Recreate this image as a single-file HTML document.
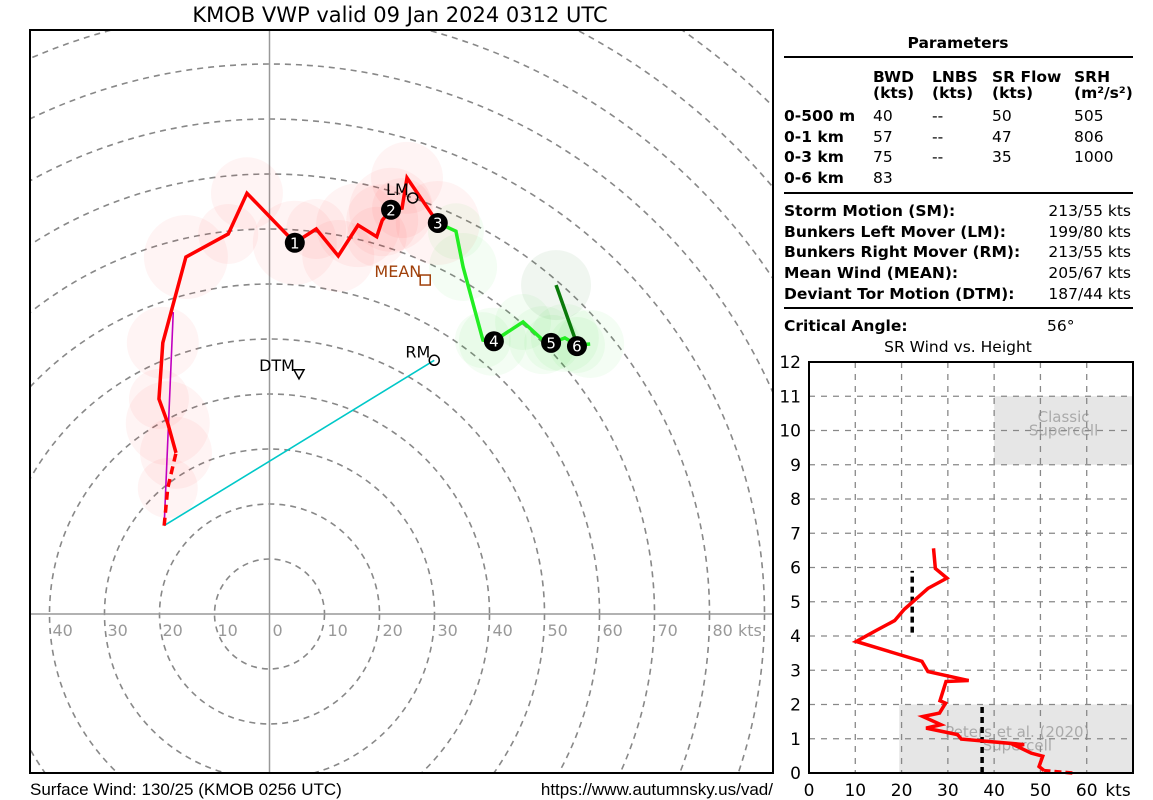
<!DOCTYPE html>
<html><head><meta charset="utf-8"><style>
html,body{margin:0;background:#fff;overflow:hidden;width:1153px;height:800px;}
svg{display:block;font-family:"DejaVu Sans","Liberation Sans",sans-serif;}
</style></head><body>
<svg id="svg" width="1153" height="800" viewBox="0 0 1153 800" xmlns="http://www.w3.org/2000/svg">
<rect width="1153" height="800" fill="#fff"/>
<text x="400" y="22" text-anchor="middle" font-size="21">KMOB VWP valid 09 Jan 2024 0312 UTC</text>
<defs><clipPath id="hclip"><rect x="30" y="30" width="743" height="743"/></clipPath></defs>
<g id="hodo" clip-path="url(#hclip)"></g>
<rect x="30" y="30" width="743" height="743" fill="none" stroke="#000" stroke-width="2"/>
<g id="hlabels"></g>
<text x="30" y="795" font-size="17" font-family="Liberation Sans, sans-serif">Surface Wind: 130/25 (KMOB 0256 UTC)</text>
<text x="773" y="795" font-size="17" text-anchor="end" font-family="Liberation Sans, sans-serif">https://www.autumnsky.us/vad/</text>

<g font-size="15.5">
<text x="958" y="48" text-anchor="middle" font-weight="bold">Parameters</text>
<line x1="784" y1="57" x2="1133" y2="57" stroke="#000" stroke-width="2"/>
<g font-weight="bold">
<text x="873" y="82">BWD</text><text x="873" y="98">(kts)</text>
<text x="932" y="82">LNBS</text><text x="932" y="98">(kts)</text>
<text x="992" y="82">SR Flow</text><text x="992" y="98">(kts)</text>
<text x="1074" y="82">SRH</text><text x="1074" y="98">(m²/s²)</text>
<text x="784" y="121">0-500 m</text><text x="784" y="142">0-1 km</text>
<text x="784" y="162">0-3 km</text><text x="784" y="183">0-6 km</text>
</g>
<text x="873" y="121">40</text><text x="932" y="121">--</text><text x="992" y="121">50</text><text x="1074" y="121">505</text>
<text x="873" y="142">57</text><text x="932" y="142">--</text><text x="992" y="142">47</text><text x="1074" y="142">806</text>
<text x="873" y="162">75</text><text x="932" y="162">--</text><text x="992" y="162">35</text><text x="1074" y="162">1000</text>
<text x="873" y="183">83</text>
<line x1="784" y1="193" x2="1133" y2="193" stroke="#000" stroke-width="2"/>
<g font-weight="bold">
<text x="784" y="216">Storm Motion (SM):</text>
<text x="784" y="237">Bunkers Left Mover (LM):</text>
<text x="784" y="257">Bunkers Right Mover (RM):</text>
<text x="784" y="278">Mean Wind (MEAN):</text>
<text x="784" y="299">Deviant Tor Motion (DTM):</text>
<text x="784" y="331">Critical Angle:</text>
</g>
<g text-anchor="end">
<text x="1131" y="216">213/55 kts</text>
<text x="1131" y="237">199/80 kts</text>
<text x="1131" y="257">213/55 kts</text>
<text x="1131" y="278">205/67 kts</text>
<text x="1131" y="299">187/44 kts</text>
</g>
<text x="1047" y="331">56°</text>
<line x1="784" y1="308" x2="1133" y2="308" stroke="#000" stroke-width="2"/>
<text x="958" y="352" text-anchor="middle">SR Wind vs. Height</text>
</g>
<g id="sr"></g>
</svg>
<script>
// ---- hodograph data (kts) ----
const redU=[-18.5,-17.0,-18.5,-20.1,-19.4,-15.2,-7.5,-4.1,4.6,8.5,12.5,16.1,19.5,20.5,22.1,24.1,25.0,30.6];
const redV=[22.9,29.3,34.7,39.1,49.3,64.9,69.1,76.5,67.5,70.0,65.1,70.7,68.6,71.6,73.5,73.8,79.3,71.1];
const greenU=[30.6,33.9,35.2,38.8,40.6,46.1,49.7,51.4,53.7,55.9,58.3];
const greenV=[71.1,69.6,63.1,49.8,49.5,53.1,49.8,49.3,50.2,48.9,49.1];
const dkU=[52.1,55.5];
const dkV=[59.8,50.2];
const markU=[4.6,22.1,30.6,40.8,51.2,55.9];
const markV=[67.5,73.5,71.1,49.6,49.3,48.7];
const markLabels=["1","2","3","4","5","6"];
const motionNames=["LM","RM","MEAN","DTM"];
const motionDir=[199,213,205,187];
const motionSpd=[80,55,67,44];
const sfcDir=130, sfcSpd=25;
const magEnd=[-17.5,54.9];
const ringKts=[10,20,30,40,50,60,70,80,90,100,110,120,130,140];
const axisLabels=[-40,-30,-20,-10,0,10,20,30,40,50,60,70,80];

// ---- SR wind data ----
const srKts=[50.8,49.7,50.5,48.0,44.6,46.5,32.9,32.1,25.3,28.5,24.6,28.2,29.5,28.3,29.6,34.5,25.7,24.4,18.5,10.2,14.5,18.5,20.6,25.7,29.8,27.3,26.9];
const srKm=[0.07,0.19,0.49,0.58,0.80,0.83,0.99,1.12,1.31,1.41,1.65,1.75,2.04,2.11,2.67,2.70,2.96,3.26,3.50,3.84,4.16,4.45,4.78,5.39,5.69,5.97,6.56];
const srDashKts=[56.9,50.8];
const srDashKm=[0.0,0.07];
const srXTicks=[0,10,20,30,40,50,60];
const srYTicks=[0,1,2,3,4,5,6,7,8,9,10,11,12];

const NS="http://www.w3.org/2000/svg";
function mk(tag,attrs,parent){const e=document.createElementNS(NS,tag);for(const k in attrs)e.setAttribute(k,attrs[k]);parent.appendChild(e);return e;}
const OX=269.5,OY=614,S=5.5;
const hx=u=>OX+u*S, hy=v=>OY-v*S;
const H=document.getElementById('hodo');
ringKts.forEach(r=>{const c=mk('circle',{cx:OX,cy:OY,r:r*S,fill:'none',stroke:'#888','stroke-width':1.6,'stroke-dasharray':'6,5'},H);

});
const ax1=mk('line',{x1:30,y1:OY,x2:773,y2:OY,stroke:'#999','stroke-width':1.5},H);


const ax2=mk('line',{x1:OX,y1:30,x2:OX,y2:773,stroke:'#999','stroke-width':1.5},H);


redU.forEach((u,i)=>{const c=mk('circle',{cx:hx(u),cy:hy(redV[i]),r:30+(i%3)*6,fill:'rgba(255,0,0,0.045)'},H);

});
greenU.slice(1).forEach((u,i)=>{const c=mk('circle',{cx:hx(u),cy:hy(greenV[i+1]),r:28+(i%2)*6,fill:'rgba(0,220,0,0.045)'},H);

});
const dc=mk('circle',{cx:hx(dkU[0]),cy:hy(dkV[0]),r:35,fill:'rgba(0,100,0,0.06)'},H);


const su=-sfcSpd*Math.sin(sfcDir*Math.PI/180), sv=-sfcSpd*Math.cos(sfcDir*Math.PI/180);
function motion(i){const d=motionDir[i]*Math.PI/180;return [-motionSpd[i]*Math.sin(d),-motionSpd[i]*Math.cos(d)];}
const rm=motion(1);
const cy=mk('line',{x1:hx(su),y1:hy(sv),x2:hx(rm[0]),y2:hy(rm[1]),stroke:'#00c8c8','stroke-width':1.6},H);


const mg=mk('line',{x1:hx(su),y1:hy(sv),x2:hx(magEnd[0]),y2:hy(magEnd[1]),stroke:'#c000c0','stroke-width':1.6},H);


const dsh=mk('polyline',{points:`${hx(su)},${hy(sv)} ${hx(redU[0])},${hy(redV[0])} ${hx(redU[1])},${hy(redV[1])}`,fill:'none',stroke:'#f00','stroke-width':3.5,'stroke-dasharray':'8,5'},H);


const rl=mk('polyline',{points:redU.slice(1).map((u,i)=>hx(u)+','+hy(redV[i+1])).join(' '),fill:'none',stroke:'#f00','stroke-width':3.5},H);


const gl=mk('polyline',{points:greenU.map((u,i)=>hx(u)+','+hy(greenV[i])).join(' '),fill:'none',stroke:'#22ee22','stroke-width':3.5},H);


const dl=mk('polyline',{points:dkU.map((u,i)=>hx(u)+','+hy(dkV[i])).join(' '),fill:'none',stroke:'#0a7a0a','stroke-width':3.5},H);


markU.forEach((u,i)=>{const g=mk('g',{},H);


mk('circle',{cx:hx(u),cy:hy(markV[i]),r:10,fill:'#000'},g);
const t=mk('text',{x:hx(u),y:hy(markV[i])+5.5,'text-anchor':'middle','font-size':15,fill:'#fff'},g);t.textContent=markLabels[i];});
motionNames.forEach((n,i)=>{const [u,v]=motion(i);const x=hx(u),y=hy(v);const g=mk('g',{},H);


let col='#000';
if(n==='MEAN'){col='#a0400a';mk('rect',{x:x-5,y:y-5,width:10,height:10,fill:'none',stroke:col,'stroke-width':1.5},g);}
else if(n==='DTM'){mk('polygon',{points:`${x-5},${y-4} ${x+5},${y-4} ${x},${y+5}`,fill:'none',stroke:col,'stroke-width':1.5},g);}
else mk('circle',{cx:x,cy:y,r:5,fill:'none',stroke:col,'stroke-width':1.5},g);
const t=mk('text',{x:x-4,y:y-3,'text-anchor':'end','font-size':16,fill:col},g);t.textContent=n;});
const HL=document.getElementById('hlabels');
axisLabels.forEach(k=>{const t=mk('text',{x:hx(k)+3,y:OY+22,'font-size':16,fill:'#999'},HL);
t.textContent=(k<0?-k:k)+(k===80?' kts':'');

});

// ---- SR chart ----
const SR=document.getElementById('sr');
const X0=809,X1=1133,Y0=773,Y1=362;
const sx=k=>X0+k*(X1-X0)/70, sy=h=>Y0-h*(Y0-Y1)/12;
const b1=mk('rect',{x:sx(40),y:sy(11),width:sx(70)-sx(40),height:sy(9)-sy(11),fill:'#e6e6e6'},SR);


const b2=mk('rect',{x:sx(19.5),y:sy(2),width:sx(70)-sx(19.5),height:sy(0)-sy(2),fill:'#e6e6e6'},SR);


const t1=mk('text',{x:sx(55),y:sy(10.25),'text-anchor':'middle','font-size':15,fill:'#aaa'},SR);t1.textContent='Classic';
const t2=mk('text',{x:sx(55),y:sy(9.85),'text-anchor':'middle','font-size':15,fill:'#aaa'},SR);t2.textContent='Supercell';
const t3=mk('text',{x:sx(45),y:sy(1.05),'text-anchor':'middle','font-size':15,fill:'#aaa'},SR);t3.textContent='Peters et al. (2020)';
const t4=mk('text',{x:sx(45),y:sy(0.65),'text-anchor':'middle','font-size':15,fill:'#aaa'},SR);t4.textContent='Supercell';
srXTicks.slice(1).forEach(k=>{const l=mk('line',{x1:sx(k),y1:Y1,x2:sx(k),y2:Y0,stroke:'#888','stroke-width':1.3,'stroke-dasharray':'6,6'},SR);

});
srYTicks.slice(1,-1).forEach(h=>{const l=mk('line',{x1:X0,y1:sy(h),x2:X1,y2:sy(h),stroke:'#888','stroke-width':1.3,'stroke-dasharray':'6,6'},SR);

});
srXTicks.forEach(k=>{const t=mk('text',{x:sx(k),y:796,'text-anchor':'middle','font-size':17},SR);t.textContent=k;

});
const kt=mk('text',{x:1118,y:796,'text-anchor':'middle','font-size':17},SR);kt.textContent='kts';


srYTicks.forEach(h=>{const t=mk('text',{x:801,y:sy(h)+6,'text-anchor':'end','font-size':17},SR);t.textContent=h;

});
const bd1=mk('line',{x1:sx(22.3),y1:sy(4.1),x2:sx(22.3),y2:sy(5.9),stroke:'#000','stroke-width':3.5,'stroke-dasharray':'6,4'},SR);


const bd2=mk('line',{x1:sx(37.4),y1:sy(0),x2:sx(37.4),y2:sy(1.95),stroke:'#000','stroke-width':3.5,'stroke-dasharray':'6,4'},SR);


const sd=mk('polyline',{points:srDashKts.map((k,i)=>sx(k)+','+sy(srDashKm[i])).join(' '),fill:'none',stroke:'#f00','stroke-width':3.5,'stroke-dasharray':'7,4'},SR);


const sl=mk('polyline',{points:srKts.map((k,i)=>sx(k)+','+sy(srKm[i])).join(' '),fill:'none',stroke:'#f00','stroke-width':3.5},SR);


const fr=mk('rect',{x:X0,y:Y1,width:X1-X0,height:Y0-Y1,fill:'none',stroke:'#000','stroke-width':2},SR);


</script>
</body></html>
